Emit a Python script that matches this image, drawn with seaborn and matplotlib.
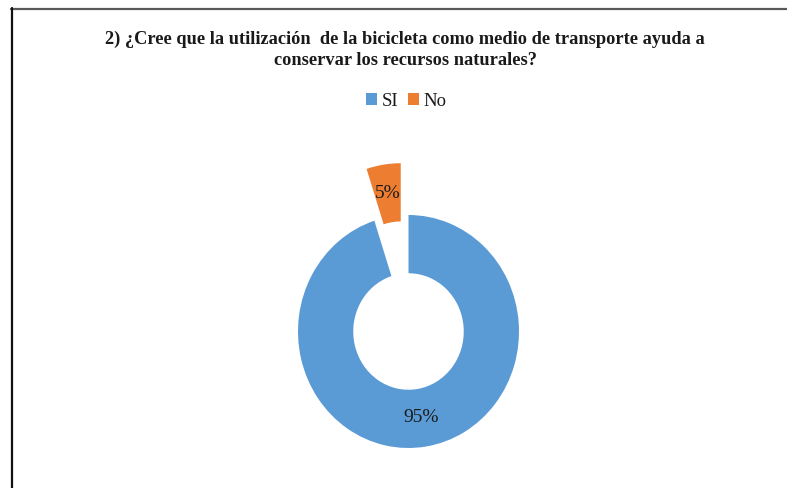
import matplotlib.pyplot as plt
import seaborn as sns
from matplotlib.lines import Line2D

# Data
labels = ["SI", "No"]
values = [95, 5]
explode = [0, 0.45]
colors = ["#5B9BD5", "#ED7D31"]
title = ("2) ¿Cree que la utilización  de la bicicleta como medio de transporte ayuda a\n"
         "conservar los recursos naturales?")

sns.set_theme(style="white")
plt.rcParams["font.family"] = ["Liberation Serif", "DejaVu Serif"]

W, H = 787, 488
fig = plt.figure(figsize=(W / 100, H / 100), dpi=100)

# Donut axes: centre (408.5, 331.5) px from top, radii 110.5 x 116.5 px
cx, cy, rx, ry = 408.5, 331.5, 110.5, 116.5
lim = 1.6
aw, ah = rx * lim * 2, ry * lim * 2
ax = fig.add_axes([(cx - aw / 2) / W, (H - cy - ah / 2) / H, aw / W, ah / H])

wedges, texts, autotexts = ax.pie(
    values,
    labels=None,
    colors=sns.color_palette(colors),
    explode=explode,
    startangle=90,
    counterclock=False,
    autopct=lambda p: f"{p:.0f}%",
    pctdistance=0.75,
    wedgeprops=dict(width=0.5, edgecolor="none"),
    textprops=dict(fontsize=14, color="#1a1a1a"),
)
ax.set_aspect("auto")
ax.set_xlim(-lim, lim)
ax.set_ylim(-lim, lim)
ax.axis("off")

fig.text(405 / W, 1 - 49.5 / H, title, ha="center", va="center", fontsize=13.2,
         fontweight="bold", linespacing=1.3, color="#1a1a1a")

fig.legend(wedges, labels, loc="center", bbox_to_anchor=(406 / W, 1 - 101 / H),
           ncol=2, frameon=False, fontsize=13.5, handlelength=0.6, handleheight=0.6,
           handletextpad=0.25, columnspacing=0.5, labelcolor="#1a1a1a")

# frame lines (top and left border of the original chart)
fig.add_artist(Line2D([11 / W, 1], [1 - 8.5 / H, 1 - 8.5 / H], color="#595959", lw=1.6,
                      transform=fig.transFigure))
fig.add_artist(Line2D([12 / W, 12 / W], [0, 1 - 8 / H], color="#111111", lw=1.6,
                      transform=fig.transFigure))

plt.savefig("out.png", dpi=100)
